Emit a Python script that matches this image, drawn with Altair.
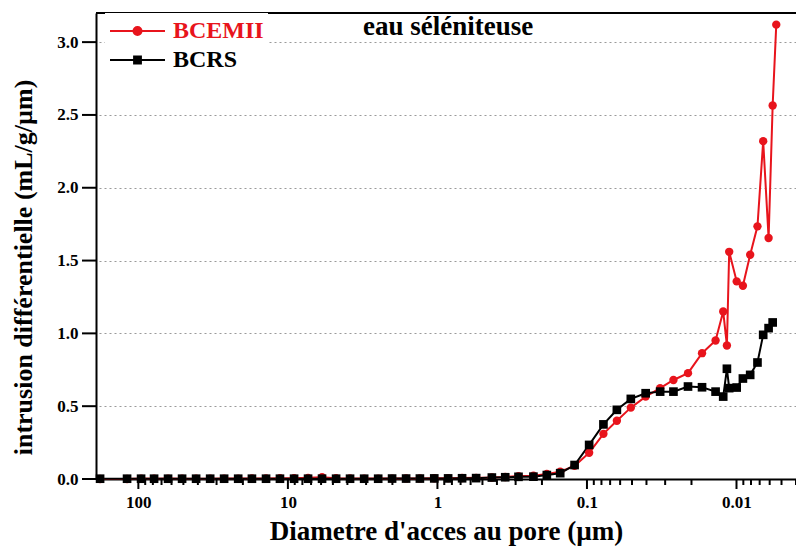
import altair as alt
import pandas as pd

# Pore access diameter (µm)
diameters = [180.3, 119, 95.9, 78.5, 63.3, 51.0, 41.1, 33.1, 26.7, 21.5,
             17.4, 14.0, 11.3, 9.09, 7.33, 5.91, 4.76, 3.84, 3.09, 2.49,
             2.01, 1.62, 1.31, 1.05, 0.848, 0.684, 0.551, 0.4325, 0.352, 0.287,
             0.228, 0.1855, 0.151, 0.121, 0.0967, 0.0776, 0.0631, 0.0509, 0.0405, 0.0324,
             0.0264, 0.0211, 0.0170, 0.0138, 0.01227, 0.01159, 0.01119, 0.00997, 0.00906, 0.0081,
             0.00724, 0.00663, 0.0061, 0.00573, 0.00542]

bcemii = [0, 0, 0.003, 0.002, 0.003, 0.002, 0.002, 0.002, 0.003, 0.003,
          0.004, 0.004, 0.005, 0.006, 0.008, 0.012, 0.006, 0.004, 0.003, 0.003,
          0.003, 0.004, 0.004, 0.005, 0.006, 0.007, 0.008, 0.010, 0.014, 0.02,
          0.022, 0.035, 0.05, 0.09, 0.18, 0.31, 0.40, 0.49, 0.566, 0.624,
          0.68, 0.727, 0.864, 0.951, 1.15, 0.917, 1.56, 1.357, 1.327, 1.54,
          1.735, 2.32, 1.655, 2.565, 3.12]

bcrs = [0.002, 0.002, 0.002, 0.002, 0.002, 0.002, 0.002, 0.002, 0.002, 0.002,
        0.002, 0.002, 0.002, 0.002, 0.002, 0.002, 0.002, 0.002, 0.002, 0.002,
        0.003, 0.003, 0.003, 0.004, 0.004, 0.005, 0.006, 0.010, 0.012, 0.015,
        0.016, 0.027, 0.04, 0.096, 0.234, 0.375, 0.475, 0.55, 0.589, 0.60,
        0.60, 0.635, 0.63, 0.60, 0.566, 0.757, 0.624, 0.628, 0.69, 0.715,
        0.80, 0.99, 1.036, 1.075, None]

series_names = ["BCEMII", "BCRS"]
series_colors = ["#e8141c", "#000000"]

major_ticks = [100, 10, 1, 0.1, 0.01]
minor_ticks = [90, 80, 70, 60, 50, 40, 30, 20,
               9, 8, 7, 6, 5, 4, 3, 2,
               0.9, 0.8, 0.7, 0.6, 0.5, 0.4, 0.3, 0.2,
               0.09, 0.08, 0.07, 0.06, 0.05, 0.04, 0.03, 0.02,
               0.009, 0.008, 0.007, 0.006, 0.005, 0.004]
y_ticks = [0.0, 0.5, 1.0, 1.5, 2.0, 2.5, 3.0]

rows = []
for name, vals in zip(series_names, [bcemii, bcrs]):
    for d, v in zip(diameters, vals):
        if v is not None:
            rows.append({"serie": name, "diam": d, "val": v})
df = pd.DataFrame(rows)

FONT = "Liberation Serif"
W, H = 700, 466

xscale = alt.Scale(type="log", domain=[0.004, 192], reverse=True, nice=False)
yscale = alt.Scale(domain=[0, 3.2], nice=False, zero=False)
cscale = alt.Scale(domain=series_names, range=series_colors)

yaxis = alt.Axis(values=y_ticks, format=".1f", labelFont=FONT, labelFontWeight="bold",
                 labelFontSize=17, labelColor="black", ticks=False,
                 domainColor="black", domainWidth=2, labelPadding=18,
                 grid=True, gridDash=[2, 3], gridColor="#9a9a9a", gridWidth=1,
                 title="intrusion différentielle (mL/g/µm)", titleFont=FONT,
                 titleFontSize=26, titleFontWeight="bold", titleColor="black",
                 titleX=-60, titleY=254)

xaxis = alt.Axis(values=major_ticks, format="~g", labelFont=FONT, labelFontWeight="bold",
                 labelFontSize=17, labelColor="black", ticks=False,
                 domainColor="black", domainWidth=2,
                 labelPadding=15, grid=False, orient="bottom", labelFlush=False,
                 title="Diametre d'acces au pore (µm)", titleFont=FONT,
                 titleFontSize=27, titleFontWeight="bold", titleColor="black",
                 titlePadding=8)

# legend symbols: a line with a (stroke-filled) marker in its middle
def ring_circle(radii):
    return "".join(f"M{r},0A{r},{r},0,1,1,-{r},0A{r},{r},0,1,1,{r},0Z" for r in radii)

def ring_square(halves):
    return "".join(f"M-{h},-{h}H{h}V{h}H-{h}Z" for h in halves)

circle_path = "M-1,0H1" + ring_circle([0.036, 0.091, 0.145])
square_path = "M-1,0H1" + ring_square([0.036, 0.08, 0.124])
is_red = "datum.value == 'BCEMII'"

legend = alt.Legend(
    title=None, orient="none", legendX=9, legendY=0, padding=4,
    symbolType=alt.ExprRef(f"{is_red} ? '{circle_path}' : '{square_path}'"),
    symbolSize=3025, symbolStrokeWidth=2,
    symbolFillColor=alt.ExprRef(f"{is_red} ? '#e8141c' : 'black'"),
    symbolOpacity=1,
    labelColor=alt.ExprRef(f"{is_red} ? '#e8141c' : 'black'"),
    labelFont=FONT, labelFontSize=24, labelFontWeight="bold", labelOffset=7,
    clipHeight=28, rowPadding=1, fillColor="white",
)

X = alt.X("diam:Q", scale=xscale, axis=xaxis)
Y = alt.Y("val:Q", scale=yscale, axis=yaxis)

lines = alt.Chart(df).mark_line(strokeWidth=2, clip=False).encode(
    x=X, y=Y,
    color=alt.Color("serie:N", scale=cscale, legend=legend),
    order=alt.Order("diam:Q", sort="descending"),
)

pts_red = alt.Chart(df).transform_filter(alt.datum.serie == "BCEMII").mark_point(
    filled=True, opacity=1, size=70, shape="circle", color=series_colors[0], clip=False
).encode(x=X, y=Y)

pts_black = alt.Chart(df).transform_filter(alt.datum.serie == "BCRS").mark_point(
    filled=True, opacity=1, size=75, shape="square", color=series_colors[1], clip=False
).encode(x=X, y=Y)

# axis ticks drawn as rules through the shared scales
xt_major = alt.Chart(pd.DataFrame({"diam": major_ticks})).mark_rule(
    color="black", strokeWidth=2, clip=False).encode(x=X, y=alt.value(H), y2=alt.value(H + 10))
xt_minor = alt.Chart(pd.DataFrame({"diam": minor_ticks})).mark_rule(
    color="black", strokeWidth=2, clip=False).encode(x=X, y=alt.value(H), y2=alt.value(H + 6))
yt = alt.Chart(pd.DataFrame({"val": y_ticks})).mark_rule(
    color="black", strokeWidth=2, clip=False).encode(y=Y, x=alt.value(-14), x2=alt.value(0))

frame_top = alt.Chart(pd.DataFrame({"k": [0]})).mark_rule(color="black", strokeWidth=2).encode(
    x=alt.value(0), x2=alt.value(W), y=alt.value(0)
)

title_txt = alt.Chart(pd.DataFrame({"t": ["eau séléniteuse"]})).mark_text(
    font=FONT, fontSize=27, fontWeight="bold", align="left", baseline="alphabetic", color="black"
).encode(text="t:N", x=alt.value(267), y=alt.value(22))

chart = alt.layer(lines, pts_red, pts_black, xt_major, xt_minor, yt, frame_top, title_txt).properties(
    width=W, height=H, autosize="none",
    padding={"left": 88, "top": 5, "right": 0, "bottom": 70},
    background="white",
).configure_view(stroke=None)

chart.save("out.html", embed_options={"renderer": "svg", "actions": False})
